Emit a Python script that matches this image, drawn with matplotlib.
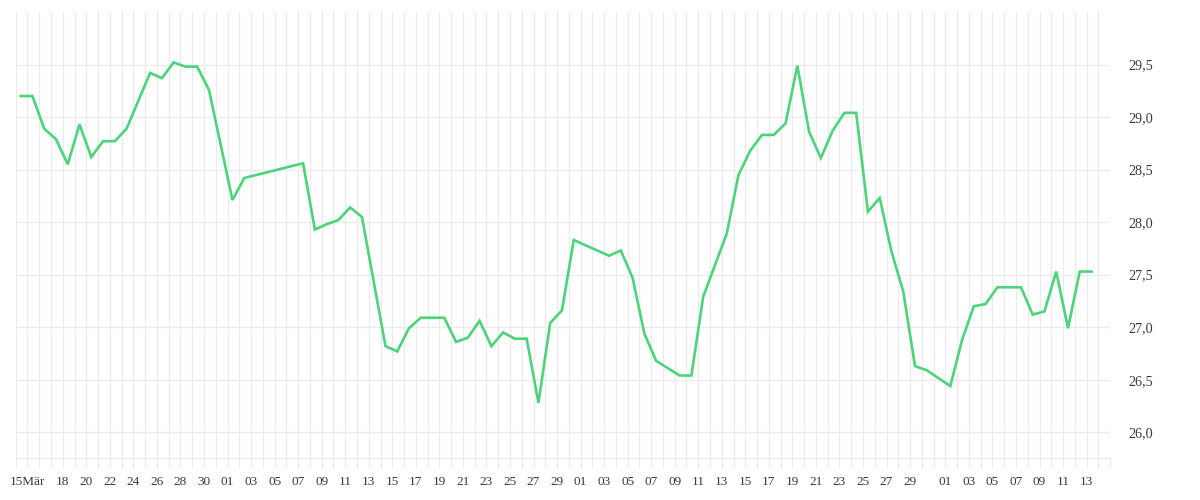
import pandas as pd
import matplotlib
matplotlib.use("Agg")
import matplotlib.pyplot as plt
import matplotlib.dates as mdates

# daily values (gaps = no data, the line just joins across)
dates = [
    "2024-03-14", "2024-03-15", "2024-03-16", "2024-03-17", "2024-03-18",
    "2024-03-19", "2024-03-20", "2024-03-21", "2024-03-22", "2024-03-23",
    "2024-03-25", "2024-03-26", "2024-03-27", "2024-03-28", "2024-03-29",
    "2024-03-30", "2024-04-01", "2024-04-02", "2024-04-07", "2024-04-08",
    "2024-04-09", "2024-04-10", "2024-04-11", "2024-04-12", "2024-04-14",
    "2024-04-15", "2024-04-16", "2024-04-17", "2024-04-18", "2024-04-19",
    "2024-04-20", "2024-04-21", "2024-04-22", "2024-04-23", "2024-04-24",
    "2024-04-25", "2024-04-26", "2024-04-27", "2024-04-28", "2024-04-29",
    "2024-04-30", "2024-05-03", "2024-05-04", "2024-05-05", "2024-05-06",
    "2024-05-07", "2024-05-09", "2024-05-10", "2024-05-11", "2024-05-13",
    "2024-05-14", "2024-05-15", "2024-05-16", "2024-05-17", "2024-05-18",
    "2024-05-19", "2024-05-20", "2024-05-21", "2024-05-22", "2024-05-23",
    "2024-05-24", "2024-05-25", "2024-05-26", "2024-05-27", "2024-05-28",
    "2024-05-29", "2024-05-30", "2024-06-01", "2024-06-02", "2024-06-03",
    "2024-06-04", "2024-06-05", "2024-06-06", "2024-06-07", "2024-06-08",
    "2024-06-09", "2024-06-10", "2024-06-11", "2024-06-12", "2024-06-13",
]
values = [
    29.20, 29.20, 28.89, 28.79, 28.55,
    28.93, 28.62, 28.77, 28.77, 28.89,
    29.42, 29.37, 29.52, 29.48, 29.48,
    29.26, 28.21, 28.42, 28.56, 27.93,
    27.98, 28.02, 28.14, 28.05, 26.82,
    26.77, 26.99, 27.09, 27.09, 27.09,
    26.86, 26.90, 27.06, 26.82, 26.95,
    26.89, 26.89, 26.28, 27.04, 27.16,
    27.83, 27.68, 27.73, 27.47, 26.94,
    26.68, 26.54, 26.54, 27.29, 27.89,
    28.45, 28.68, 28.83, 28.83, 28.94,
    29.49, 28.86, 28.61, 28.87, 29.04,
    29.04, 28.10, 28.23, 27.72, 27.34,
    26.63, 26.59, 26.44, 26.88, 27.20,
    27.22, 27.38, 27.38, 27.38, 27.12,
    27.15, 27.53, 26.99, 27.53, 27.53,
]
y_ticks = [26.0, 26.5, 27.0, 27.5, 28.0, 28.5, 29.0, 29.5]

grid_c = "#ebebeb"
text_c = "#3a3a3a"
line_c = "#4cd47a"

x = mdates.date2num(pd.to_datetime(dates)) + 0.42

fig = plt.figure(figsize=(12, 5), dpi=100)
ax = fig.add_axes([0.0131, 0.084, 0.912, 0.892])

ax.plot(x, values, color=line_c, linewidth=1.9, solid_joinstyle="miter", zorder=3)

days = pd.date_range("2024-03-14", "2024-06-15", freq="D")
labels = []
for d in days:
    if d.month == 3 and d.day == 15:
        labels.append("15Mär")
    elif d.month == 3 and d.day >= 18 and d.day % 2 == 0:
        labels.append(str(d.day))
    elif d.month > 3 and d.day % 2 == 1 and d.day != 31 and d <= pd.Timestamp("2024-06-13"):
        labels.append(f"{d.day:02d}")
    else:
        labels.append("")

ax.set_xticks(mdates.date2num(days))
ax.set_xticklabels(labels)
ax.set_xlim(mdates.date2num(days[0]), mdates.date2num(days[-1]))
ax.set_ylim(25.755, 30.0)
ax.set_yticks(y_ticks)
ax.set_yticklabels([f"{v:.1f}".replace(".", ",") for v in y_ticks])

ax.yaxis.tick_right()
ax.grid(True, color=grid_c, linewidth=0.9, zorder=0)
ax.set_axisbelow(True)

for s in ["top", "left", "right"]:
    ax.spines[s].set_visible(False)
ax.spines["bottom"].set_color(grid_c)
ax.spines["bottom"].set_linewidth(0.9)

ax.tick_params(axis="x", direction="out", length=7.2, width=0.7, color=grid_c,
               pad=6, labelsize=9.5, labelcolor=text_c)
ax.tick_params(axis="y", length=0, pad=13, labelsize=10.2, labelcolor=text_c)
for lab in ax.get_xticklabels() + ax.get_yticklabels():
    lab.set_family("Liberation Serif")
# first label sits a bit left of its day in the original
ax.get_xticklabels()[1].set_x(mdates.date2num(days[1]) - 0.3)

fig.savefig("out.png", dpi=100, facecolor="white")
